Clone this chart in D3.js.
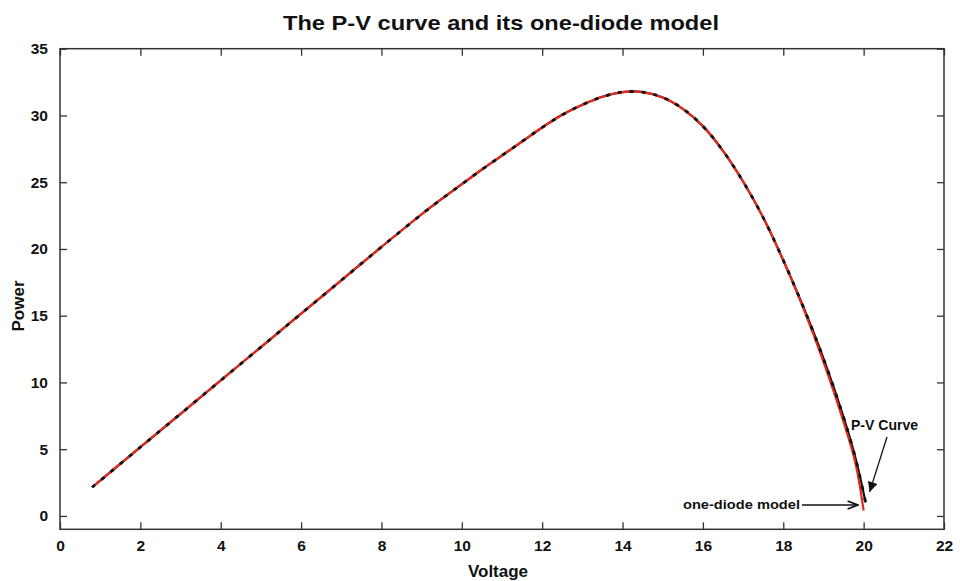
<!DOCTYPE html>
<html>
<head>
<meta charset="utf-8">
<script src="https://cdn.jsdelivr.net/npm/d3@7"></script>
<style>
  html, body { margin: 0; padding: 0; background: #fff; }
  svg { display: block; font-family: "Liberation Sans", Arial, Helvetica, sans-serif; }
</style>
</head>
<body>
<svg id="chart" width="960" height="581"></svg>
<script>
// Model output (one-diode model), red
const modelVoltage = [0.8, 1.5, 2, 3, 4, 5, 6, 7, 8, 9, 9.5, 10, 10.5, 11, 11.5, 12, 12.5, 13, 13.5, 14, 14.5, 15, 15.5, 16, 16.5, 17, 17.5, 18, 18.5, 19, 19.5, 19.8, 20.0];
const modelPower   = [2.15, 3.9, 5.15, 7.65, 10.15, 12.65, 15.15, 17.65, 20.15, 22.6, 23.75, 24.85, 25.95, 27.0, 28.05, 29.1, 30.05, 30.8, 31.4, 31.75, 31.75, 31.35, 30.5, 29.2, 27.35, 25.05, 22.35, 19.15, 15.55, 11.55, 7.05, 3.9, 0.4];

// Measured P-V curve, black
const curveVoltage = [0.8, 1.5, 2, 3, 4, 5, 6, 7, 8, 9, 9.5, 10, 10.5, 11, 11.5, 12, 12.5, 13, 13.5, 14, 14.5, 15, 15.5, 16, 16.5, 17, 17.5, 18, 18.5, 19, 19.5, 19.8, 20.05];
const curvePower   = [2.15, 3.9, 5.15, 7.65, 10.15, 12.65, 15.15, 17.65, 20.15, 22.6, 23.75, 24.85, 25.95, 27.0, 28.05, 29.1, 30.05, 30.8, 31.4, 31.75, 31.75, 31.35, 30.5, 29.2, 27.35, 25.05, 22.35, 19.15, 15.65, 11.8, 7.4, 4.3, 1.0];

const xTicks = [0, 2, 4, 6, 8, 10, 12, 14, 16, 18, 20, 22];
const yTicks = [0, 5, 10, 15, 20, 25, 30, 35];

const titleText = "The P-V curve and its one-diode model";
const xLabel = "Voltage";
const yLabel = "Power";
const curveNote = "P-V Curve";
const modelNote = "one-diode model";

const svg = d3.select("#chart");
const x = d3.scaleLinear().domain([0, 22]).range([60, 944]);
const y = d3.scaleLinear().domain([-1, 35]).range([529.3, 48.7]);

const axisColor = "#333";
const narrow = "'Liberation Sans Narrow', 'Liberation Sans', Arial, sans-serif";

// plot box
svg.append("rect")
  .attr("x", x(0)).attr("y", y(35))
  .attr("width", x(22) - x(0)).attr("height", y(-1) - y(35))
  .attr("fill", "none").attr("stroke", axisColor).attr("stroke-width", 1.5);

const tickLen = 7;
function styleAxis(g) {
  g.select(".domain").remove();
  g.selectAll(".tick line").attr("stroke", axisColor).attr("stroke-width", 1.3);
  g.selectAll(".tick text").attr("fill", "#111").attr("font-weight", "bold").attr("font-size", 15.5);
}

// bottom axis with inward ticks
svg.append("g").attr("transform", `translate(0,${y(-1)})`)
  .call(d3.axisBottom(x).tickValues(xTicks).tickSizeInner(-tickLen).tickSizeOuter(0).tickPadding(11).tickFormat(d3.format("d")))
  .call(styleAxis);
// top ticks
svg.append("g").attr("transform", `translate(0,${y(35)})`)
  .call(d3.axisTop(x).tickValues(xTicks).tickSizeInner(-tickLen).tickSizeOuter(0).tickFormat(""))
  .call(styleAxis);
// left axis
svg.append("g").attr("transform", `translate(${x(0)},0)`)
  .call(d3.axisLeft(y).tickValues(yTicks).tickSizeInner(-tickLen).tickSizeOuter(0).tickPadding(12).tickFormat(d3.format("d")))
  .call(styleAxis);
// right ticks
svg.append("g").attr("transform", `translate(${x(22)},0)`)
  .call(d3.axisRight(y).tickValues(yTicks).tickSizeInner(-tickLen).tickSizeOuter(0).tickFormat(""))
  .call(styleAxis);

// curves
const line = d3.line().x(d => x(d[0])).y(d => y(d[1])).curve(d3.curveCatmullRom.alpha(0.5));
const modelData = modelVoltage.map((v, i) => [v, modelPower[i]]);
const curveData = curveVoltage.map((v, i) => [v, curvePower[i]]);

svg.append("path").datum(curveData)
  .attr("d", line).attr("fill", "none")
  .attr("stroke", "#111").attr("stroke-width", 2.2);
svg.append("path").datum(modelData)
  .attr("d", line).attr("fill", "none")
  .attr("stroke", "#e8291c").attr("stroke-width", 2.2);
svg.append("path").datum(curveData)
  .attr("d", line).attr("fill", "none")
  .attr("stroke", "#111").attr("stroke-width", 2.8)
  .attr("stroke-dasharray", "4,8");

// title and axis labels
svg.append("text").attr("x", 501).attr("y", 30).attr("text-anchor", "middle")
  .attr("font-family", narrow)
  .attr("font-size", 21).attr("font-weight", "bold").attr("fill", "#111")
  .attr("textLength", 436).attr("lengthAdjust", "spacingAndGlyphs")
  .text(titleText);
svg.append("text").attr("x", 498).attr("y", 577).attr("text-anchor", "middle")
  .attr("font-size", 17).attr("font-weight", "bold").attr("fill", "#111").text(xLabel);
svg.append("text").attr("transform", "translate(24,306) rotate(-90)").attr("text-anchor", "middle")
  .attr("font-size", 17).attr("font-weight", "bold").attr("fill", "#111").text(yLabel);

// annotations
const defs = svg.append("defs");
defs.append("marker").attr("id", "tri").attr("viewBox", "0 0 10 10")
  .attr("refX", 10).attr("refY", 5).attr("markerWidth", 12).attr("markerHeight", 10)
  .attr("markerUnits", "userSpaceOnUse").attr("orient", "auto")
  .append("path").attr("d", "M0,0 L10,5 L0,10 Z").attr("fill", "#111");
defs.append("marker").attr("id", "vee").attr("viewBox", "0 0 10 10")
  .attr("refX", 10).attr("refY", 5).attr("markerWidth", 13).attr("markerHeight", 10)
  .attr("markerUnits", "userSpaceOnUse").attr("orient", "auto")
  .append("path").attr("d", "M0,1 L10,5 L0,9").attr("fill", "none").attr("stroke", "#111").attr("stroke-width", 1.8);

svg.append("text").attr("x", 851).attr("y", 430)
  .attr("font-family", narrow)
  .attr("font-size", 14).attr("font-weight", "bold").attr("fill", "#111")
  .attr("textLength", 67).attr("lengthAdjust", "spacingAndGlyphs")
  .text(curveNote);
svg.append("line")
  .attr("x1", 887).attr("y1", 437).attr("x2", x(20.15)).attr("y2", y(1.8))
  .attr("stroke", "#111").attr("stroke-width", 1.3).attr("marker-end", "url(#tri)");

svg.append("text").attr("x", 683).attr("y", 509)
  .attr("font-family", narrow)
  .attr("font-size", 13.5).attr("font-weight", "bold").attr("fill", "#111")
  .attr("textLength", 117).attr("lengthAdjust", "spacingAndGlyphs")
  .text(modelNote);
svg.append("line")
  .attr("x1", 802).attr("y1", 505).attr("x2", x(19.85)).attr("y2", 505)
  .attr("stroke", "#111").attr("stroke-width", 1.3).attr("marker-end", "url(#vee)");
</script>
</body>
</html>
